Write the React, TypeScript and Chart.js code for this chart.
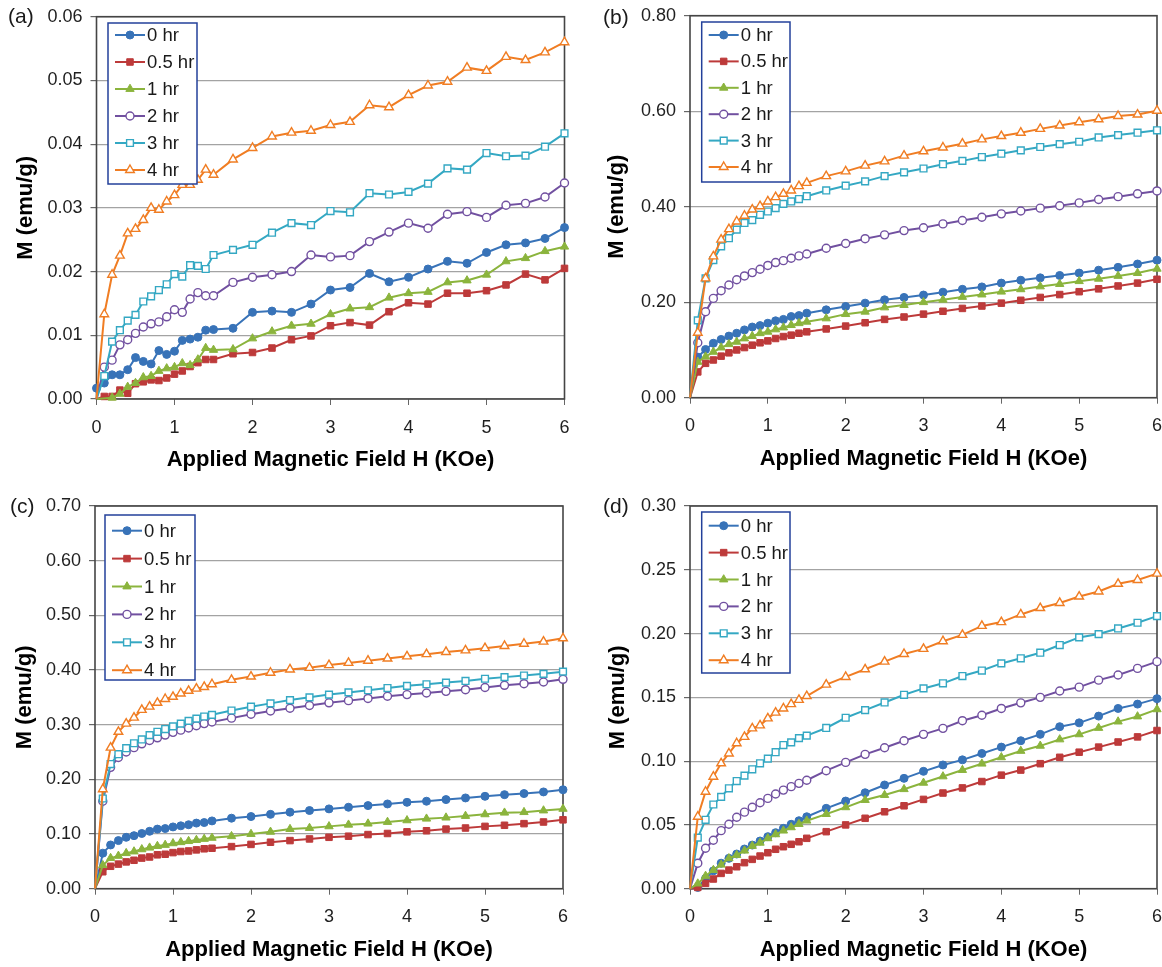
import React, { useEffect, useRef } from 'react';
import { Chart, registerables } from 'chart.js';

Chart.register(...registerables);
Chart.defaults.font.family = '"Liberation Sans", Arial, sans-serif';

// ---------- data ----------
const FIELD_H = [0, 0.1, 0.2, 0.3, 0.4, 0.5, 0.6, 0.7, 0.8, 0.9, 1.0, 1.1, 1.2, 1.3, 1.4, 1.5,
  1.75, 2.0, 2.25, 2.5, 2.75, 3.0, 3.25, 3.5, 3.75, 4.0, 4.25, 4.5, 4.75, 5.0, 5.25, 5.5, 5.75, 6.0];
const X_TICKS = [0, 1, 2, 3, 4, 5, 6];
const SERIES_LABELS = ['0 hr', '0.5 hr', '1 hr', '2 hr', '3 hr', '4 hr'];
const X_TITLE = 'Applied Magnetic Field H (KOe)';
const Y_TITLE = 'M (emu/g)';

// panel (a)
const A_Y_TICKS = [0, 0.01, 0.02, 0.03, 0.04, 0.05, 0.06];
const A_0HR = [0.0017, 0.0025, 0.0038, 0.0038, 0.0046, 0.0065, 0.0059, 0.0055, 0.0076, 0.0070, 0.0075, 0.0092, 0.0094, 0.0097, 0.0108, 0.0109, 0.0111, 0.0136, 0.0138, 0.0136, 0.0149, 0.0171, 0.0175, 0.0197, 0.0184, 0.0191, 0.0204, 0.0216, 0.0213, 0.0230, 0.0242, 0.0245, 0.0252, 0.0269];
const A_05HR = [0, 0.0004, 0.0004, 0.0014, 0.0009, 0.0024, 0.0027, 0.0030, 0.0029, 0.0033, 0.0039, 0.0044, 0.0051, 0.0057, 0.0062, 0.0062, 0.0071, 0.0073, 0.0080, 0.0093, 0.0099, 0.0115, 0.0120, 0.0116, 0.0137, 0.0151, 0.0149, 0.0166, 0.0166, 0.0170, 0.0179, 0.0196, 0.0187, 0.0205];
const A_1HR = [0, null, 0.0002, 0.0008, 0.0019, 0.0025, 0.0034, 0.0036, 0.0044, 0.0048, 0.0050, 0.0056, 0.0053, 0.0062, 0.0080, 0.0077, 0.0078, 0.0095, 0.0106, 0.0115, 0.0118, 0.0133, 0.0142, 0.0144, 0.0159, 0.0166, 0.0168, 0.0183, 0.0186, 0.0195, 0.0216, 0.0221, 0.0232, 0.0239];
const A_2HR = [0, 0.0050, 0.0061, 0.0085, 0.0093, 0.0103, 0.0113, 0.0118, 0.0121, 0.0129, 0.0140, 0.0136, 0.0157, 0.0167, 0.0162, 0.0162, 0.0183, 0.0191, 0.0195, 0.0200, 0.0226, 0.0223, 0.0225, 0.0247, 0.0262, 0.0276, 0.0268, 0.0290, 0.0294, 0.0285, 0.0304, 0.0307, 0.0317, 0.0339];
const A_3HR = [0, 0.0036, 0.0090, 0.0108, 0.0123, 0.0132, 0.0153, 0.0161, 0.0171, 0.0180, 0.0196, 0.0192, 0.0210, 0.0209, 0.0204, 0.0226, 0.0234, 0.0242, 0.0261, 0.0276, 0.0273, 0.0295, 0.0293, 0.0323, 0.0321, 0.0325, 0.0338, 0.0362, 0.0360, 0.0386, 0.0381, 0.0382, 0.0396, 0.0417];
const A_4HR = [0, 0.0133, 0.0195, 0.0225, 0.0260, 0.0267, 0.0281, 0.0300, 0.0297, 0.0310, 0.0320, 0.0336, 0.0336, 0.0344, 0.0360, 0.0352, 0.0376, 0.0394, 0.0412, 0.0418, 0.0421, 0.0430, 0.0435, 0.0461, 0.0458, 0.0477, 0.0492, 0.0498, 0.0520, 0.0515, 0.0537, 0.0532, 0.0544, 0.0560];

// panel (b)
const B_Y_TICKS = [0, 0.2, 0.4, 0.6, 0.8];
const B_0HR = [0, 0.085, 0.101, 0.114, 0.122, 0.129, 0.135, 0.142, 0.148, 0.151, 0.156, 0.161, 0.164, 0.170, 0.172, 0.177, 0.184, 0.191, 0.198, 0.205, 0.210, 0.215, 0.221, 0.227, 0.232, 0.240, 0.246, 0.251, 0.256, 0.261, 0.267, 0.273, 0.280, 0.288];
const B_05HR = [0, 0.054, 0.072, 0.079, 0.087, 0.094, 0.100, 0.105, 0.110, 0.115, 0.119, 0.124, 0.128, 0.131, 0.135, 0.138, 0.144, 0.150, 0.157, 0.164, 0.169, 0.175, 0.181, 0.187, 0.192, 0.198, 0.204, 0.210, 0.216, 0.222, 0.228, 0.234, 0.240, 0.248];
const B_1HR = [0, 0.075, 0.086, 0.096, 0.105, 0.112, 0.117, 0.124, 0.129, 0.135, 0.138, 0.143, 0.147, 0.152, 0.156, 0.159, 0.166, 0.175, 0.180, 0.189, 0.194, 0.200, 0.205, 0.211, 0.216, 0.222, 0.227, 0.233, 0.238, 0.244, 0.249, 0.255, 0.261, 0.270];
const B_2HR = [0, 0.115, 0.180, 0.208, 0.224, 0.236, 0.247, 0.255, 0.262, 0.269, 0.277, 0.283, 0.287, 0.292, 0.297, 0.301, 0.313, 0.323, 0.333, 0.341, 0.350, 0.356, 0.364, 0.371, 0.378, 0.385, 0.391, 0.397, 0.402, 0.408, 0.415, 0.421, 0.427, 0.433];
const B_3HR = [0, 0.162, 0.250, 0.288, 0.317, 0.334, 0.352, 0.366, 0.372, 0.383, 0.390, 0.397, 0.406, 0.411, 0.416, 0.422, 0.434, 0.444, 0.453, 0.464, 0.472, 0.480, 0.489, 0.496, 0.504, 0.511, 0.518, 0.525, 0.531, 0.536, 0.545, 0.550, 0.555, 0.560];
const B_4HR = [0, 0.136, 0.250, 0.296, 0.331, 0.353, 0.369, 0.381, 0.394, 0.401, 0.411, 0.420, 0.427, 0.434, 0.443, 0.450, 0.464, 0.474, 0.486, 0.495, 0.507, 0.516, 0.524, 0.532, 0.541, 0.548, 0.555, 0.563, 0.570, 0.577, 0.583, 0.590, 0.593, 0.601];

// panel (c)
const C_Y_TICKS = [0, 0.1, 0.2, 0.3, 0.4, 0.5, 0.6, 0.7];
const C_0HR = [0, 0.065, 0.080, 0.088, 0.094, 0.097, 0.101, 0.105, 0.109, 0.110, 0.113, 0.115, 0.117, 0.120, 0.121, 0.124, 0.129, 0.132, 0.136, 0.140, 0.143, 0.146, 0.149, 0.152, 0.155, 0.158, 0.160, 0.163, 0.166, 0.169, 0.172, 0.174, 0.177, 0.181];
const C_05HR = [0, 0.031, 0.041, 0.045, 0.049, 0.052, 0.056, 0.058, 0.062, 0.063, 0.066, 0.068, 0.069, 0.071, 0.073, 0.074, 0.077, 0.081, 0.085, 0.088, 0.091, 0.094, 0.096, 0.099, 0.101, 0.104, 0.106, 0.109, 0.111, 0.114, 0.116, 0.119, 0.122, 0.126];
const C_1HR = [0, 0.043, 0.056, 0.060, 0.065, 0.068, 0.072, 0.075, 0.078, 0.080, 0.083, 0.085, 0.087, 0.089, 0.091, 0.093, 0.096, 0.100, 0.104, 0.109, 0.111, 0.114, 0.117, 0.119, 0.122, 0.125, 0.128, 0.130, 0.133, 0.136, 0.139, 0.140, 0.143, 0.146];
const C_2HR = [0, 0.160, 0.222, 0.240, 0.250, 0.258, 0.265, 0.271, 0.276, 0.281, 0.286, 0.290, 0.294, 0.298, 0.302, 0.305, 0.312, 0.319, 0.325, 0.330, 0.335, 0.340, 0.344, 0.348, 0.352, 0.355, 0.358, 0.361, 0.364, 0.368, 0.372, 0.375, 0.378, 0.383];
const C_3HR = [0, 0.165, 0.228, 0.246, 0.257, 0.266, 0.273, 0.281, 0.287, 0.292, 0.297, 0.302, 0.307, 0.311, 0.315, 0.318, 0.326, 0.333, 0.339, 0.345, 0.350, 0.355, 0.359, 0.363, 0.367, 0.371, 0.374, 0.377, 0.380, 0.384, 0.387, 0.390, 0.393, 0.397];
const C_4HR = [0, 0.182, 0.258, 0.287, 0.302, 0.313, 0.327, 0.333, 0.340, 0.347, 0.351, 0.357, 0.362, 0.366, 0.369, 0.374, 0.382, 0.388, 0.395, 0.401, 0.404, 0.409, 0.413, 0.417, 0.421, 0.425, 0.429, 0.433, 0.436, 0.440, 0.444, 0.448, 0.452, 0.458];

// panel (d)
const D_Y_TICKS = [0, 0.05, 0.1, 0.15, 0.2, 0.25, 0.3];
const D_0HR = [0, 0.001, 0.008, 0.014, 0.020, 0.0238, 0.0272, 0.0311, 0.0342, 0.0374, 0.0408, 0.0439, 0.0473, 0.0505, 0.0533, 0.0564, 0.063, 0.0687, 0.0752, 0.0813, 0.0865, 0.092, 0.097, 0.101, 0.106, 0.111, 0.116, 0.121, 0.127, 0.130, 0.1353, 0.1413, 0.1447, 0.149];
const D_05HR = [0, 0.001, 0.0042, 0.0076, 0.012, 0.0146, 0.0172, 0.0204, 0.023, 0.0256, 0.0282, 0.0309, 0.0329, 0.0348, 0.0368, 0.0395, 0.0447, 0.050, 0.0552, 0.0603, 0.065, 0.070, 0.075, 0.079, 0.084, 0.089, 0.093, 0.098, 0.103, 0.107, 0.111, 0.115, 0.119, 0.124];
const D_1HR = [0, 0.004, 0.010, 0.0146, 0.0188, 0.0238, 0.0264, 0.0298, 0.0335, 0.036, 0.0395, 0.0426, 0.0455, 0.0481, 0.0507, 0.0533, 0.0585, 0.0638, 0.0695, 0.0734, 0.078, 0.083, 0.088, 0.093, 0.098, 0.103, 0.108, 0.112, 0.117, 0.121, 0.126, 0.131, 0.135, 0.1406];
const D_2HR = [0, 0.020, 0.0317, 0.038, 0.0455, 0.0505, 0.056, 0.060, 0.0638, 0.0674, 0.0708, 0.0742, 0.0773, 0.080, 0.0826, 0.085, 0.0925, 0.099, 0.1053, 0.1105, 0.116, 0.121, 0.1257, 0.1317, 0.136, 0.1413, 0.1457, 0.150, 0.155, 0.158, 0.1635, 0.1675, 0.1727, 0.178];
const D_3HR = [0, 0.040, 0.054, 0.066, 0.072, 0.0787, 0.0844, 0.0886, 0.0936, 0.0983, 0.102, 0.107, 0.1126, 0.1147, 0.118, 0.120, 0.126, 0.134, 0.140, 0.146, 0.152, 0.157, 0.161, 0.1667, 0.171, 0.1766, 0.1806, 0.185, 0.191, 0.197, 0.1996, 0.204, 0.2085, 0.2137];
const D_4HR = [0, 0.0564, 0.076, 0.0878, 0.0983, 0.106, 0.114, 0.119, 0.1257, 0.128, 0.1335, 0.138, 0.1413, 0.1447, 0.148, 0.151, 0.160, 0.166, 0.172, 0.178, 0.184, 0.188, 0.194, 0.199, 0.206, 0.209, 0.215, 0.220, 0.224, 0.229, 0.233, 0.239, 0.242, 0.247];

// ---------- styles ----------
type Shape = 'circle' | 'rect' | 'triangle';
const STYLES: { color: string; shape: Shape; filled: boolean; r: number }[] = [
  { color: '#3873B8', shape: 'circle', filled: true, r: 4 },
  { color: '#BD3A3A', shape: 'rect', filled: true, r: 4.6 },
  { color: '#8BB43D', shape: 'triangle', filled: true, r: 4.8 },
  { color: '#7150A0', shape: 'circle', filled: false, r: 4 },
  { color: '#34A8C3', shape: 'rect', filled: false, r: 4.8 },
  { color: '#F07D23', shape: 'triangle', filled: false, r: 5 },
];

type Spec = {
  tag: string;
  series: (number | null)[][];
  yTicks: number[];
  box: { left: number; top: number; width: number; height: number };
  area: { l: number; t: number; r: number; b: number };
  yTitleX: number;
  xTitleY: number;
  legend: { x: number; y: number; w: number; h: number; first: number; step: number };
  tagPos: { x: number; y: number };
};

const SPECS: Spec[] = [
  {
    tag: '(a)', series: [A_0HR, A_05HR, A_1HR, A_2HR, A_3HR, A_4HR], yTicks: A_Y_TICKS,
    box: { left: 0, top: 0, width: 600, height: 480 },
    area: { l: 96.5, t: 16.7, r: 564.5, b: 399 },
    yTitleX: 26, xTitleY: 460,
    legend: { x: 108, y: 23, w: 89, h: 161, first: 12, step: 27 },
    tagPos: { x: 8, y: 17.5 },
  },
  {
    tag: '(b)', series: [B_0HR, B_05HR, B_1HR, B_2HR, B_3HR, B_4HR], yTicks: B_Y_TICKS,
    box: { left: 581, top: 0, width: 610, height: 480 },
    area: { l: 690, t: 15.7, r: 1157, b: 397.7 },
    yTitleX: 616.5, xTitleY: 459,
    legend: { x: 701.7, y: 22, w: 88.3, h: 160, first: 13, step: 26.4 },
    tagPos: { x: 603, y: 18 },
  },
  {
    tag: '(c)', series: [C_0HR, C_05HR, C_1HR, C_2HR, C_3HR, C_4HR], yTicks: C_Y_TICKS,
    box: { left: 0, top: 480, width: 600, height: 487 },
    area: { l: 95, t: 506, r: 563, b: 888.7 },
    yTitleX: 25, xTitleY: 950,
    legend: { x: 105, y: 515, w: 90, h: 165, first: 15.7, step: 27.9 },
    tagPos: { x: 10, y: 507 },
  },
  {
    tag: '(d)', series: [D_0HR, D_05HR, D_1HR, D_2HR, D_3HR, D_4HR], yTicks: D_Y_TICKS,
    box: { left: 581, top: 480, width: 610, height: 487 },
    area: { l: 690, t: 506, r: 1157, b: 888.7 },
    yTitleX: 618, xTitleY: 950,
    legend: { x: 701.7, y: 512, w: 88.3, h: 161, first: 13.7, step: 26.9 },
    tagPos: { x: 603, y: 507 },
  },
];

function drawMarker(ctx: CanvasRenderingContext2D, shape: Shape, x: number, y: number, r: number, color: string, filled: boolean) {
  ctx.beginPath();
  if (shape === 'circle') {
    ctx.arc(x, y, r, 0, Math.PI * 2);
  } else if (shape === 'rect') {
    const s = r * Math.SQRT1_2;
    ctx.rect(x - s, y - s, 2 * s, 2 * s);
  } else {
    for (let k = 0; k < 3; k++) {
      const a = (k * 2 * Math.PI) / 3;
      const px = x + Math.sin(a) * r;
      const py = y - Math.cos(a) * r;
      if (k === 0) ctx.moveTo(px, py); else ctx.lineTo(px, py);
    }
    ctx.closePath();
  }
  ctx.fillStyle = filled ? color : '#ffffff';
  ctx.fill();
  ctx.lineWidth = filled ? 1 : 1.4;
  ctx.strokeStyle = color;
  ctx.stroke();
}

const LH = 1.2;
const TICK_FONT = 18;
const TITLE_FONT = 22;

function buildConfig(spec: Spec): any {
  const { box, area } = spec;
  const yAxisWidth = area.l - box.left;
  const xAxisHeight = box.top + box.height - area.b;
  const titleHalf = (TITLE_FONT * LH) / 2;
  const yTitlePad = spec.yTitleX - box.left - titleHalf;
  const xTitlePad = box.top + box.height - spec.xTitleY - titleHalf;
  const ox = box.left;
  const oy = box.top;

  const datasets = spec.series.map((vals, i) => {
    const st = STYLES[i];
    return {
      label: SERIES_LABELS[i],
      data: FIELD_H.map((x, k) => ({ x, y: vals[k] })),
      borderColor: st.color,
      backgroundColor: st.color,
      borderWidth: 2,
      pointStyle: st.shape,
      pointRadius: (c: any) => (c.raw && c.raw.x === 0 && c.raw.y === 0 ? 0 : st.r),
      pointBackgroundColor: st.filled ? st.color : '#ffffff',
      pointBorderColor: st.color,
      pointBorderWidth: st.filled ? 1 : 1.4,
      tension: 0,
      spanGaps: true,
      clip: false,
      order: 5 - i,
    };
  });

  const decor = {
    id: 'decor' + spec.tag,
    beforeDatasetsDraw(chart: any) {
      const { ctx, chartArea: a } = chart;
      ctx.save();
      ctx.strokeStyle = '#454545';
      ctx.lineWidth = 1.6;
      ctx.strokeRect(a.left, a.top, a.right - a.left, a.bottom - a.top);
      ctx.restore();
    },
    afterDraw(chart: any) {
      const ctx: CanvasRenderingContext2D = chart.ctx;
      const L = spec.legend;
      const lx = L.x - ox;
      const ly = L.y - oy;
      ctx.save();
      ctx.fillStyle = '#ffffff';
      ctx.fillRect(lx, ly, L.w, L.h);
      ctx.strokeStyle = '#23409A';
      ctx.lineWidth = 1.5;
      ctx.strokeRect(lx, ly, L.w, L.h);
      ctx.font = '18.5px "Liberation Sans", Arial, sans-serif';
      ctx.textBaseline = 'middle';
      ctx.textAlign = 'left';
      SERIES_LABELS.forEach((lab, i) => {
        const st = STYLES[i];
        const yy = ly + L.first + i * L.step;
        ctx.beginPath();
        ctx.moveTo(lx + 7, yy);
        ctx.lineTo(lx + 37, yy);
        ctx.strokeStyle = st.color;
        ctx.lineWidth = 2;
        ctx.stroke();
        drawMarker(ctx, st.shape, lx + 22, yy, st.r, st.color, st.filled);
        ctx.fillStyle = '#1a1a1a';
        ctx.fillText(lab, lx + 39, yy + 1);
      });
      ctx.font = '21px "Liberation Sans", Arial, sans-serif';
      ctx.fillStyle = '#1a1a1a';
      ctx.fillText(spec.tag, spec.tagPos.x - ox, spec.tagPos.y - oy);
      ctx.restore();
    },
  };

  return {
    type: 'line',
    data: { datasets },
    plugins: [decor],
    options: {
      responsive: false,
      maintainAspectRatio: false,
      devicePixelRatio: 1,
      animation: false,
      events: [],
      layout: {
        padding: { top: area.t - box.top, right: box.left + box.width - area.r, left: 0, bottom: 0 },
      },
      plugins: { legend: { display: false }, tooltip: { enabled: false }, title: { display: false } },
      scales: {
        x: {
          type: 'linear',
          position: 'bottom',
          min: 0,
          max: 6,
          afterBuildTicks: (s: any) => { s.ticks = X_TICKS.map((v) => ({ value: v })); },
          afterFit: (s: any) => { s.height = xAxisHeight; },
          ticks: {
            color: '#1f1f1f', font: { size: TICK_FONT }, padding: 12, maxRotation: 0, autoSkip: false,
            callback: (v: any) => String(v),
          },
          grid: { drawOnChartArea: false, drawTicks: true, tickLength: 6, tickColor: '#666', color: '#666' },
          border: { display: false },
          title: {
            display: true, text: X_TITLE, color: '#000',
            font: { size: TITLE_FONT, weight: 'bold' }, padding: { top: 0, bottom: xTitlePad },
          },
        },
        y: {
          type: 'linear',
          position: 'left',
          min: 0,
          max: spec.yTicks[spec.yTicks.length - 1],
          afterBuildTicks: (s: any) => { s.ticks = spec.yTicks.map((v) => ({ value: v })); },
          afterFit: (s: any) => { s.width = yAxisWidth; },
          ticks: {
            color: '#1f1f1f', font: { size: TICK_FONT, lineHeight: 0.7 }, padding: 8,
            callback: (v: any) => Number(v).toFixed(2),
          },
          grid: { color: '#a3a3a3', lineWidth: 1.2, drawTicks: true, tickLength: 6, tickColor: '#666' },
          border: { display: false },
          title: {
            display: true, text: Y_TITLE, color: '#000',
            font: { size: TITLE_FONT, weight: 'bold' }, padding: { top: yTitlePad, bottom: 0 },
          },
        },
      },
    },
  };
}

function Panel({ spec }: { spec: Spec }) {
  const ref = useRef<HTMLCanvasElement>(null);
  useEffect(() => {
    const canvas = ref.current;
    if (!canvas) return;
    const chart = new Chart(canvas, buildConfig(spec));
    return () => chart.destroy();
  }, [spec]);
  const { left, top, width, height } = spec.box;
  return (
    <canvas
      ref={ref}
      width={width}
      height={height}
      style={{ position: 'absolute', left, top, width, height, display: 'block' }}
    />
  );
}

export default function App() {
  return (
    <div style={{ position: 'absolute', left: 0, top: 0, width: 1162, height: 967, background: '#fff', overflow: 'hidden' }}>
      {SPECS.map((s) => (
        <Panel key={s.tag} spec={s} />
      ))}
    </div>
  );
}
